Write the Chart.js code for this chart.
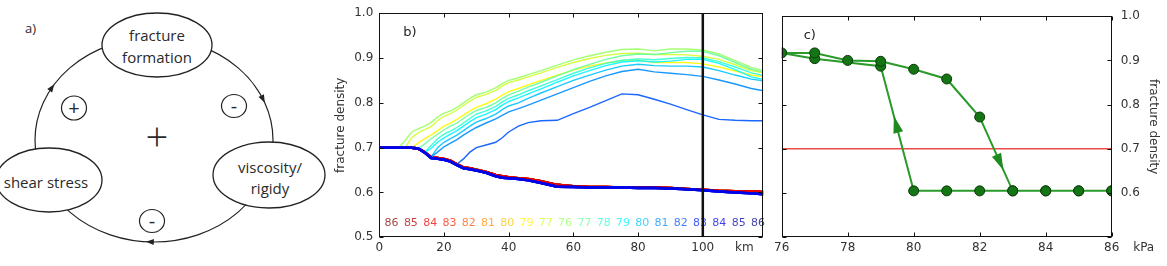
<!DOCTYPE html>
<html lang="en">
<head>
<meta charset="UTF-8">
<title>Fracture density hysteresis</title>
<script src="https://cdn.jsdelivr.net/npm/chart.js"></script>
<style>
  body { margin: 0; background: #fff; }
  #wrap { position: relative; width: 1167px; height: 266px; overflow: hidden; }
  #diagram { position: absolute; left: 0; top: 0; }
  #cvB { position: absolute; left: 330px; top: 0; }
  #cvC { position: absolute; left: 770px; top: 0; }
  #diagram text { font-family: "Open Sans", sans-serif; fill: #2a2a2a; }
</style>
</head>
<body>
<div id="wrap">
  <svg id="diagram" width="330" height="266">
    <text x="25" y="33" font-size="13">a)</text>
    <ellipse id="loop" fill="none" stroke="#222" stroke-width="1.2"/>
    <g id="loopArrows"></g>
    <ellipse cx="157" cy="45" rx="55" ry="32" fill="#fff" stroke="#222" stroke-width="1.3"/>
    <text x="157" y="41" text-anchor="middle" font-size="15">fracture</text>
    <text x="157" y="63" text-anchor="middle" font-size="15">formation</text>
    <ellipse cx="49" cy="180" rx="53" ry="32" fill="#fff" stroke="#222" stroke-width="1.3"/>
    <text x="46" y="188" text-anchor="middle" font-size="15">shear stress</text>
    <ellipse cx="269" cy="175" rx="56" ry="33" fill="#fff" stroke="#222" stroke-width="1.3"/>
    <text x="270" y="173" text-anchor="middle" font-size="15">viscosity/</text>
    <text x="270" y="194" text-anchor="middle" font-size="15">rigidy</text>
    <ellipse cx="74" cy="108" rx="12.5" ry="12" fill="none" stroke="#222" stroke-width="1.2"/>
    <text x="74" y="115" text-anchor="middle" font-size="20">+</text>
    <ellipse cx="234" cy="106" rx="12.5" ry="11.5" fill="none" stroke="#222" stroke-width="1.2"/>
    <text x="234" y="113" text-anchor="middle" font-size="20">-</text>
    <ellipse cx="152" cy="221" rx="12.5" ry="11.5" fill="none" stroke="#222" stroke-width="1.2"/>
    <text x="152" y="228" text-anchor="middle" font-size="20">-</text>
    <text x="157" y="151" text-anchor="middle" font-size="40" font-weight="300">+</text>
  </svg>
  <canvas id="cvB" width="440" height="266"></canvas>
  <canvas id="cvC" width="397" height="266"></canvas>
</div>
<script>
// distance along the section (km), shared by all runs of panel b
const km = [0, 6, 8, 10, 12, 14, 16, 18, 20, 22, 24, 26, 28, 30, 33, 36, 38, 40, 43, 46,
            50, 55, 60, 65, 70, 75, 80, 85, 90, 95, 100, 105, 110, 115, 118.7];

// runs that stay on the low branch
const lowRed  = [0.700, 0.700, 0.700, 0.700, 0.698, 0.690, 0.679, 0.677, 0.675, 0.671, 0.663, 0.656, 0.654, 0.651, 0.646, 0.639, 0.636, 0.634, 0.632, 0.630,
                 0.625, 0.617, 0.614, 0.612, 0.612, 0.611, 0.611, 0.611, 0.610, 0.608, 0.606, 0.604, 0.603, 0.602, 0.601];
const lowBlue = [0.700, 0.700, 0.700, 0.700, 0.698, 0.689, 0.677, 0.675, 0.673, 0.669, 0.661, 0.654, 0.652, 0.649, 0.644, 0.636, 0.633, 0.632, 0.630, 0.627,
                 0.621, 0.613, 0.612, 0.611, 0.611, 0.611, 0.610, 0.610, 0.609, 0.607, 0.605, 0.602, 0.600, 0.598, 0.596];

// runs that jump to the high branch (null = still on the low branch)
const up79a = [null, null, null, 0.700, 0.710, 0.720, 0.728, 0.738, 0.748, 0.755, 0.763, 0.772, 0.782, 0.790, 0.798, 0.808, 0.817, 0.825, 0.832, 0.840,
               0.850, 0.862, 0.873, 0.882, 0.889, 0.894, 0.895, 0.890, 0.890, 0.890, 0.887, 0.880, 0.871, 0.862, 0.858];
const up77a = [null, null, 0.700, 0.722, 0.733, 0.740, 0.747, 0.760, 0.770, 0.776, 0.784, 0.794, 0.804, 0.812, 0.819, 0.828, 0.838, 0.845, 0.851, 0.858,
               0.867, 0.879, 0.890, 0.899, 0.906, 0.910, 0.911, 0.908, 0.908, 0.907, 0.904, 0.897, 0.885, 0.872, 0.867];
const up76  = [null, 0.700, 0.716, 0.735, 0.742, 0.748, 0.756, 0.768, 0.777, 0.782, 0.790, 0.800, 0.810, 0.818, 0.824, 0.834, 0.843, 0.850, 0.856, 0.863,
               0.872, 0.884, 0.896, 0.905, 0.913, 0.919, 0.920, 0.916, 0.920, 0.920, 0.918, 0.909, 0.894, 0.879, 0.872];
const up77b = [null, null, null, null, 0.698, 0.708, 0.720, 0.730, 0.740, 0.748, 0.755, 0.765, 0.775, 0.783, 0.790, 0.800, 0.810, 0.818, 0.826, 0.835,
               0.846, 0.860, 0.874, 0.886, 0.897, 0.905, 0.909, 0.908, 0.912, 0.915, 0.915, 0.905, 0.890, 0.875, 0.869];
const up78  = [null, null, null, null, null, 0.690, 0.705, 0.720, 0.730, 0.737, 0.745, 0.755, 0.765, 0.775, 0.782, 0.792, 0.802, 0.810, 0.818, 0.827,
               0.838, 0.852, 0.866, 0.878, 0.888, 0.895, 0.898, 0.896, 0.899, 0.901, 0.900, 0.892, 0.880, 0.867, 0.861];
const up79b = [null, null, null, null, null, 0.690, 0.698, 0.712, 0.722, 0.730, 0.738, 0.748, 0.758, 0.767, 0.775, 0.785, 0.795, 0.803, 0.811, 0.820,
               0.831, 0.846, 0.860, 0.872, 0.883, 0.891, 0.894, 0.891, 0.893, 0.897, 0.897, 0.888, 0.874, 0.858, 0.852];
const up80  = [null, null, null, null, null, null, 0.679, 0.700, 0.712, 0.720, 0.728, 0.738, 0.748, 0.757, 0.765, 0.775, 0.785, 0.793, 0.800, 0.810,
               0.822, 0.836, 0.850, 0.862, 0.873, 0.882, 0.886, 0.883, 0.882, 0.882, 0.880, 0.872, 0.862, 0.853, 0.849];
const up81  = [null, null, null, null, null, null, 0.679, 0.690, 0.702, 0.710, 0.718, 0.728, 0.737, 0.745, 0.755, 0.764, 0.772, 0.780, 0.787, 0.795,
               0.806, 0.820, 0.834, 0.848, 0.860, 0.870, 0.875, 0.869, 0.866, 0.863, 0.859, 0.851, 0.842, 0.832, 0.827];
const up82  = [null, null, null, null, null, null, null, null, null, null, 0.663, 0.675, 0.690, 0.700, 0.706, 0.712, 0.722, 0.735, 0.748, 0.756,
               0.760, 0.761, 0.776, 0.790, 0.805, 0.820, 0.818, 0.808, 0.797, 0.785, 0.773, 0.763, 0.761, 0.760, 0.760];

// shear stress of each run (kPa), in run order
const kPa = [86, 85, 84, 83, 82, 81, 80, 79, 77, 76, 77, 78, 79, 80, 81, 82, 83, 84, 85, 86];
const runCurves = [lowRed, lowRed, lowRed, lowRed, lowRed, lowRed, lowRed,
                   up79a, up77a, up76, up77b, up78, up79b, up80, up81, up82,
                   lowBlue, lowBlue, lowBlue, lowBlue];

// panel c: density at the 100 km section for each run
const densityAt100 = [0.605, 0.605, 0.605, 0.605, 0.605, 0.605, 0.605, 0.887, 0.904, 0.917,
                      0.917, 0.900, 0.898, 0.880, 0.858, 0.772, 0.605, 0.605, 0.605, 0.605];
const sectionKm = 100;
const initialDensity = 0.7;
const yTicks = [0.5, 0.6, 0.7, 0.8, 0.9, 1.0];

// ---------- panel a: feedback loop ----------
const loop = { cx: 154, cy: 140, rx: 119, ry: 102 };
const loopArrowAngles = [149, 23.6, 268];
(function drawLoop() {
  const el = document.getElementById('loop');
  el.setAttribute('cx', loop.cx); el.setAttribute('cy', loop.cy);
  el.setAttribute('rx', loop.rx); el.setAttribute('ry', loop.ry);
  const g = document.getElementById('loopArrows');
  loopArrowAngles.forEach(deg => {
    const th = deg * Math.PI / 180;
    const px = loop.cx + loop.rx * Math.cos(th), py = loop.cy - loop.ry * Math.sin(th);
    let dx = loop.rx * Math.sin(th), dy = loop.ry * Math.cos(th);
    const n = Math.hypot(dx, dy); dx /= n; dy /= n;
    const L = 8, W = 3;
    const pts = [[px + dx * L / 2, py + dy * L / 2],
                 [px - dx * L / 2 - dy * W, py - dy * L / 2 + dx * W],
                 [px - dx * L / 2 + dy * W, py - dy * L / 2 - dx * W]];
    const poly = document.createElementNS('http://www.w3.org/2000/svg', 'polygon');
    poly.setAttribute('points', pts.map(p => p.join(',')).join(' '));
    poly.setAttribute('fill', '#222');
    g.appendChild(poly);
  });
})();

// ---------- helpers ----------
function jet(t) {
  const c = v => Math.round(255 * Math.max(0, Math.min(1, v)));
  return [c(1.5 - Math.abs(4 * t - 3)), c(1.5 - Math.abs(4 * t - 2)), c(1.5 - Math.abs(4 * t - 1))];
}
const rgba = (c, a) => `rgba(${c[0]},${c[1]},${c[2]},${a})`;
const runColor = i => jet(1 - i / (kPa.length - 1));
const toPoints = (xs, ys) => xs.map((x, i) => ({ x: x, y: ys[i] }));

Chart.defaults.font.family = '"DejaVu Sans", sans-serif';
Chart.defaults.font.size = 12;
Chart.defaults.color = '#333';

// frame + inward tick marks on all four sides
const frameTicks = {
  id: 'frameTicks',
  afterDraw(chart) {
    const { ctx, chartArea: a, scales: { x, y } } = chart;
    const L = Math.round(a.left) + 0.5, R = Math.round(a.right) - 0.5;
    const T = Math.round(a.top) + 0.5, B = Math.round(a.bottom) - 0.5;
    ctx.save();
    ctx.strokeStyle = '#111';
    ctx.lineWidth = 1;
    ctx.strokeRect(L, T, R - L, B - T);
    ctx.beginPath();
    x.ticks.forEach(t => {
      const p = Math.round(x.getPixelForValue(t.value)) + 0.5;
      ctx.moveTo(p, B); ctx.lineTo(p, B - 4);
      ctx.moveTo(p, T); ctx.lineTo(p, T + 4);
    });
    y.ticks.forEach(t => {
      const p = Math.round(y.getPixelForValue(t.value)) + 0.5;
      ctx.moveTo(L, p); ctx.lineTo(L + 4, p);
      ctx.moveTo(R, p); ctx.lineTo(R - 4, p);
    });
    ctx.stroke();
    ctx.restore();
  }
};

// ---------- panel b ----------
const labelsB = {
  id: 'labelsB',
  beforeDatasetsDraw(chart) {
    const { ctx, scales: { x, y } } = chart;
    ctx.save();
    ctx.font = '11px "DejaVu Sans"';
    ctx.textAlign = 'center';
    ctx.textBaseline = 'middle';
    kPa.forEach((p, i) => {
      ctx.fillStyle = rgba(runColor(i), 0.75);
      ctx.fillText(String(p), x.getPixelForValue(3.8 + 5.96 * i), y.getPixelForValue(0.531));
    });
    ctx.restore();
  },
  afterDraw(chart) {
    const { ctx, chartArea: a } = chart;
    ctx.save();
    ctx.fillStyle = '#222';
    ctx.font = '13px "DejaVu Sans"';
    ctx.textBaseline = 'middle';
    ctx.fillText('b)', a.left + 24, a.top + 19);
    ctx.fillStyle = '#333';
    ctx.font = '12px "DejaVu Sans"';
    ctx.textAlign = 'center';
    ctx.fillText('km', a.right - 19, a.bottom + 10.5);
    ctx.restore();
  }
};

const runSets = runCurves.map((ys, i) => {
  const low = ys === lowRed || ys === lowBlue;
  // low-branch runs: bright blue on top, red just underneath
  const order = !low ? 40 - i : (ys === lowBlue ? 10 + Math.abs(i - 17) : 60 + Math.abs(i - 2));
  return {
    data: toPoints(km, ys),
    borderColor: rgba(runColor(i), low ? 0.95 : 0.9),
    borderWidth: low ? 2.5 : 1.4,
    pointRadius: 0,
    tension: 0,
    order: order
  };
});
runSets.push({
  data: [{ x: sectionKm, y: yTicks[0] }, { x: sectionKm, y: yTicks[yTicks.length - 1] }],
  borderColor: '#111', borderWidth: 2.5, pointRadius: 0, order: 0
});

new Chart(document.getElementById('cvB'), {
  type: 'line',
  data: { datasets: runSets },
  options: {
    responsive: false,
    animation: false,
    layout: { padding: { left: 0, top: 8.3, right: 6.7, bottom: 0 } },
    plugins: { legend: { display: false }, tooltip: { enabled: false } },
    scales: {
      x: {
        type: 'linear', min: 0, max: 118.7,
        ticks: { stepSize: 20, padding: 3, maxRotation: 0 },
        afterBuildTicks: s => { s.ticks = s.ticks.filter(t => t.value % 20 === 0); },
        afterFit: s => { s.height = 28.7; },
        grid: { display: false, drawTicks: false },
        border: { display: false }
      },
      y: {
        min: yTicks[0], max: yTicks[yTicks.length - 1],
        ticks: { stepSize: 0.1, padding: 6, callback: v => v.toFixed(1) },
        afterFit: s => { s.width = 49.3; },
        title: { display: true, text: 'fracture density', color: '#333', padding: { top: 4, bottom: 0 } },
        grid: { display: false, drawTicks: false },
        border: { display: false }
      }
    }
  },
  plugins: [labelsB, frameTicks]
});

// ---------- panel c ----------
const arrowSegments = [[6, 0.6], [15, 0.72]]; // segment start index, fraction along it
const labelsC = {
  id: 'labelsC',
  afterDatasetsDraw(chart) {
    const { ctx } = chart;
    const pts = chart.getDatasetMeta(1).data;
    ctx.save();
    ctx.fillStyle = '#1f8a1f';
    arrowSegments.forEach(([i, f]) => {
      const a = pts[i], b = pts[i + 1];
      let dx = b.x - a.x, dy = b.y - a.y;
      const n = Math.hypot(dx, dy); dx /= n; dy /= n;
      const tx = a.x + (b.x - a.x) * f, ty = a.y + (b.y - a.y) * f;
      const L = 17, W = 5;
      ctx.beginPath();
      ctx.moveTo(tx, ty);
      ctx.lineTo(tx - dx * L - dy * W, ty - dy * L + dx * W);
      ctx.lineTo(tx - dx * L + dy * W, ty - dy * L - dx * W);
      ctx.closePath();
      ctx.fill();
    });
    ctx.restore();
  },
  afterDraw(chart) {
    const { ctx, chartArea: a } = chart;
    ctx.save();
    ctx.fillStyle = '#222';
    ctx.font = '13px "DejaVu Sans"';
    ctx.textBaseline = 'middle';
    ctx.fillText('c)', a.left + 22, a.top + 19);
    ctx.fillStyle = '#333';
    ctx.font = '12px "DejaVu Sans"';
    ctx.textAlign = 'center';
    ctx.fillText('kPa', a.right + 32, a.bottom + 10.5);
    ctx.restore();
  }
};

new Chart(document.getElementById('cvC'), {
  type: 'line',
  data: {
    datasets: [
      {
        data: [{ x: 76, y: initialDensity }, { x: 86, y: initialDensity }],
        borderColor: '#ee4a4a', borderWidth: 1.5, pointRadius: 0, order: 2
      },
      {
        data: toPoints(kPa, densityAt100),
        borderColor: '#2a9a2a', borderWidth: 2,
        pointRadius: 5, pointBackgroundColor: '#157515', pointBorderColor: '#0a3a0a', pointBorderWidth: 1,
        tension: 0, order: 1
      }
    ]
  },
  options: {
    responsive: false,
    animation: false,
    layout: { padding: { left: 11.7, top: 8.3, right: 3, bottom: 0 } },
    plugins: { legend: { display: false }, tooltip: { enabled: false } },
    scales: {
      x: {
        type: 'linear', min: 76, max: 86,
        ticks: { stepSize: 2, padding: 3, maxRotation: 0 },
        afterFit: s => { s.height = 28.7; },
        grid: { display: false, drawTicks: false },
        border: { display: false }
      },
      y: {
        position: 'right',
        min: yTicks[0], max: yTicks[yTicks.length - 1],
        ticks: { stepSize: 0.1, padding: 9, callback: v => (v < 0.55 ? '' : v.toFixed(1)) },
        afterFit: s => { s.width = 52.3; },
        title: { display: true, text: 'fracture density', color: '#333', padding: { top: 4, bottom: 0 } },
        grid: { display: false, drawTicks: false },
        border: { display: false }
      }
    }
  },
  plugins: [labelsC, frameTicks]
});
</script>
</body>
</html>
